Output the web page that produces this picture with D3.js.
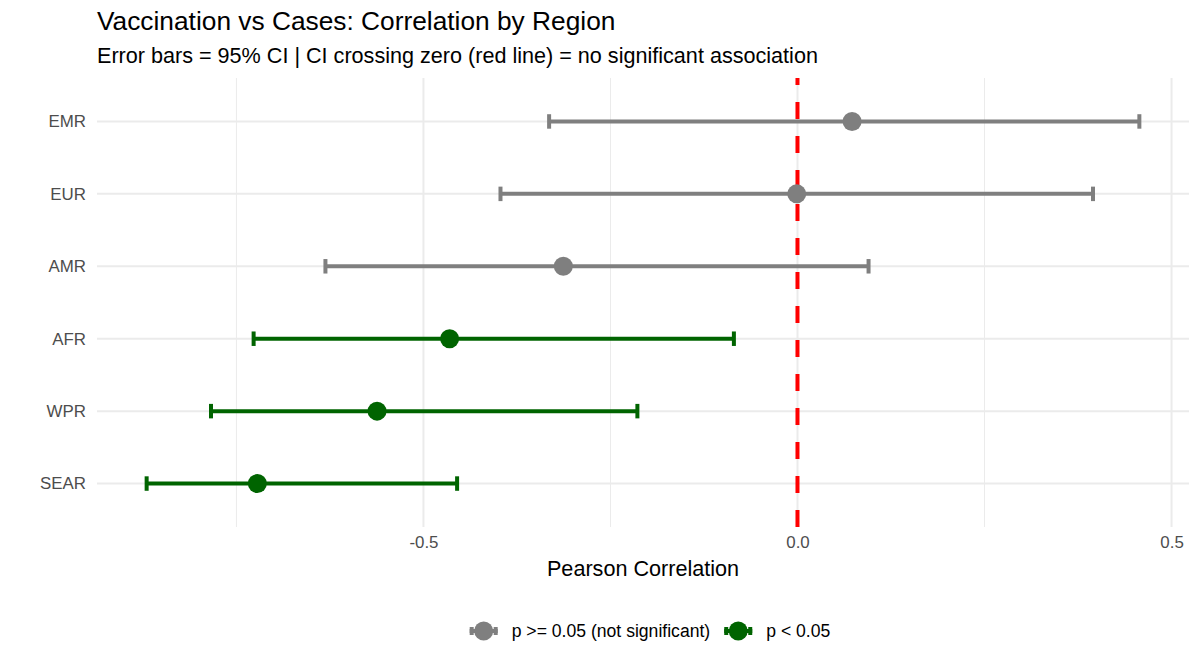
<!DOCTYPE html>
<html>
<head>
<meta charset="utf-8">
<script src="https://cdn.jsdelivr.net/npm/d3@7"></script>
<style>
  body { margin: 0; background: #fff; }
  svg { display: block; font-family: "Liberation Sans", Arial, sans-serif; }
</style>
</head>
<body>
<svg id="chart" width="1200" height="670"></svg>
<script>
// regions, top to bottom as drawn
const regions = ["EMR", "EUR", "AMR", "AFR", "WPR", "SEAR"];
const correlation = [0.073, -0.001, -0.313, -0.465, -0.562, -0.722];
const ciLow = [-0.332, -0.397, -0.631, -0.727, -0.784, -0.870];
const ciHigh = [0.457, 0.395, 0.095, -0.085, -0.214, -0.455];
const significant = [false, false, false, true, true, true];

const xTicks = [-0.5, 0.0, 0.5];
const xMinor = [-0.75, -0.25, 0.25];
const legendLabels = ["p >= 0.05 (not significant)", "p < 0.05"];

const COLORS = { ns: "#7f7f7f", sig: "#006400" };
const TICK_SIZE = "16.9px";

const rows = regions.map((r, i) => ({
  region: r,
  r: correlation[i],
  lo: ciLow[i],
  hi: ciHigh[i],
  sig: significant[i],
}));

const svg = d3.select("#chart");
const panel = { left: 97, right: 1189, top: 78, bottom: 527 };

// continuous axis with ggplot-like 5% expansion
const lo = d3.min(ciLow), hi = d3.max(ciHigh);
const pad = (hi - lo) * 0.05;
const x = d3.scaleLinear().domain([lo - pad, hi + pad]).range([panel.left, panel.right]);
const y = d3.scalePoint().domain(regions).range([panel.top, panel.bottom]).padding(0.6);

// grid
const grid = svg.append("g");
grid.selectAll(".minor").data(xMinor).enter().append("line")
  .attr("x1", d => x(d)).attr("x2", d => x(d))
  .attr("y1", panel.top).attr("y2", panel.bottom)
  .attr("stroke", "#ebebeb").attr("stroke-width", 1);
grid.selectAll(".major").data(xTicks).enter().append("line")
  .attr("x1", d => x(d)).attr("x2", d => x(d))
  .attr("y1", panel.top).attr("y2", panel.bottom)
  .attr("stroke", "#ebebeb").attr("stroke-width", 2);
grid.selectAll(".hmajor").data(regions).enter().append("line")
  .attr("x1", panel.left).attr("x2", panel.right)
  .attr("y1", d => y(d)).attr("y2", d => y(d))
  .attr("stroke", "#ebebeb").attr("stroke-width", 2);

// zero reference, drawn bottom-up so the dashes start at the bottom edge
svg.append("line")
  .attr("x1", x(0)).attr("x2", x(0))
  .attr("y1", panel.bottom).attr("y2", panel.top)
  .attr("stroke", "#ff0000").attr("stroke-width", 4)
  .attr("stroke-dasharray", "17,17");

// error bars
const capH = y.step() * 0.1;
const bars = svg.append("g").selectAll("g").data(rows).enter().append("g")
  .attr("stroke", d => d.sig ? COLORS.sig : COLORS.ns)
  .attr("stroke-width", 4);
bars.append("line")
  .attr("x1", d => x(d.lo)).attr("x2", d => x(d.hi))
  .attr("y1", d => y(d.region)).attr("y2", d => y(d.region));
bars.append("line")
  .attr("x1", d => x(d.lo)).attr("x2", d => x(d.lo))
  .attr("y1", d => y(d.region) - capH).attr("y2", d => y(d.region) + capH);
bars.append("line")
  .attr("x1", d => x(d.hi)).attr("x2", d => x(d.hi))
  .attr("y1", d => y(d.region) - capH).attr("y2", d => y(d.region) + capH);

// points
svg.append("g").selectAll("circle").data(rows).enter().append("circle")
  .attr("cx", d => x(d.r)).attr("cy", d => y(d.region))
  .attr("r", 9.5)
  .attr("fill", d => d.sig ? COLORS.sig : COLORS.ns);

// axes (text only, theme_minimal has no axis lines)
const fmt = d3.format(".1f");
const xAxis = svg.append("g")
  .attr("transform", `translate(0,${panel.bottom + 4})`)
  .call(d3.axisBottom(x).tickValues(xTicks)
    .tickFormat(d => fmt(d).replace("\u2212", "-"))
    .tickSize(0).tickPadding(0));
xAxis.select(".domain").remove();
xAxis.selectAll("text")
  .attr("dy", "1.0em")
  .attr("fill", "#4d4d4d")
  .style("font-size", TICK_SIZE)
  .style("font-family", "'Liberation Sans', Arial, sans-serif");

const yAxis = svg.append("g")
  .attr("transform", `translate(${panel.left - 11},0)`)
  .call(d3.axisLeft(y).tickSize(0).tickPadding(0));
yAxis.select(".domain").remove();
yAxis.selectAll("text")
  .attr("fill", "#4d4d4d")
  .style("font-size", TICK_SIZE)
  .style("font-family", "'Liberation Sans', Arial, sans-serif");

// titles
svg.append("text")
  .attr("x", panel.left).attr("y", 30)
  .style("font-size", "26.3px").attr("fill", "#000")
  .text("Vaccination vs Cases: Correlation by Region");
svg.append("text")
  .attr("x", panel.left).attr("y", 62.7)
  .style("font-size", "21.6px").attr("fill", "#000")
  .text("Error bars = 95% CI | CI crossing zero (red line) = no significant association");
svg.append("text")
  .attr("x", (panel.left + panel.right) / 2).attr("y", 576)
  .attr("text-anchor", "middle")
  .style("font-size", "21.6px").attr("fill", "#000")
  .text("Pearson Correlation");

// legend
const legend = svg.append("g");
const keyW = 28, keyGap = 14, itemGap = 14;
const legendItems = [
  { label: legendLabels[0], color: COLORS.ns },
  { label: legendLabels[1], color: COLORS.sig },
];
let cursor = 0;
legendItems.forEach(item => {
  const g = legend.append("g").attr("transform", `translate(${cursor},0)`);
  g.append("line").attr("x1", 0).attr("x2", keyW).attr("y1", 0).attr("y2", 0)
    .attr("stroke", item.color).attr("stroke-width", 4);
  g.append("line").attr("x1", 2).attr("x2", 2).attr("y1", -4).attr("y2", 4)
    .attr("stroke", item.color).attr("stroke-width", 4);
  g.append("line").attr("x1", keyW - 2).attr("x2", keyW - 2).attr("y1", -4).attr("y2", 4)
    .attr("stroke", item.color).attr("stroke-width", 4);
  g.append("circle").attr("cx", keyW / 2).attr("cy", 0).attr("r", 9.5).attr("fill", item.color);
  const t = g.append("text").attr("x", keyW + keyGap).attr("y", 6)
    .style("font-size", "17.6px").attr("fill", "#000").text(item.label);
  cursor += keyW + keyGap + t.node().getComputedTextLength() + itemGap;
});
const legendW = cursor - itemGap;
legend.attr("transform", `translate(${650 - legendW / 2},631)`);
</script>
</body>
</html>
